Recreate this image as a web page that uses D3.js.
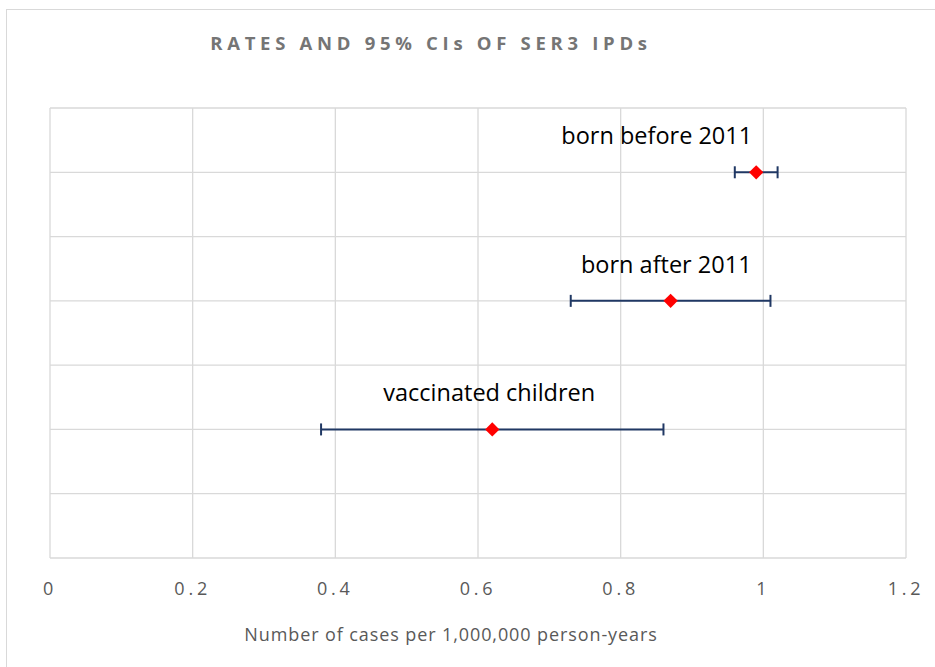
<!DOCTYPE html>
<html>
<head>
<meta charset="utf-8">
<script src="https://cdn.jsdelivr.net/npm/d3@7"></script>
<style>
  body { margin: 0; background: #fff; }
  svg { display: block; }
  .grid line { stroke: #d9d9d9; stroke-width: 1.3; }
  .tick-label { font-family: "Open Sans", sans-serif; font-size: 18px; fill: #595959; letter-spacing: 3.8px; }
</style>
</head>
<body>
<div id="chart"></div>
<script>
var groups = ['vaccinated children', 'born after 2011', 'born before 2011'];
var rates = [0.62, 0.87, 0.99];
var lower = [0.38, 0.73, 0.96];
var upper = [0.86, 1.01, 1.02];
var xTicks = [0, 0.2, 0.4, 0.6, 0.8, 1, 1.2];
var yLevels = [1, 2, 3];

var width = 935, height = 667;
var margins = {top: 108, left: 50, right: 29, bottom: 109};

// label placement relative to each point (layout, not data)
var labelDx = [-3, 81, -4];
var labelAnchor = ['middle', 'end', 'end'];

var svg = d3.select('#chart').append('svg')
  .attr('width', width)
  .attr('height', height);

// outer chart frame
svg.append('rect')
  .attr('x', 6.5).attr('y', 9.5)
  .attr('width', width).attr('height', height)
  .attr('fill', 'none')
  .attr('stroke', '#d9d9d9');

var x = d3.scaleLinear().domain([0, 1.2])
  .range([margins.left, width - margins.right]);
var y = d3.scaleLinear().domain([0, 3.5])
  .range([height - margins.bottom, margins.top]);

var gridG = svg.append('g').attr('class', 'grid');

gridG.selectAll('line.v')
  .data(xTicks)
  .enter().append('line')
  .attr('class', 'v')
  .attr('x1', function (d) { return x(d); })
  .attr('x2', function (d) { return x(d); })
  .attr('y1', y(0))
  .attr('y2', y(3.5));

gridG.selectAll('line.h')
  .data(d3.range(0, 3.51, 0.5))
  .enter().append('line')
  .attr('class', 'h')
  .attr('x1', x(0))
  .attr('x2', x(1.2))
  .attr('y1', function (d) { return y(d); })
  .attr('y2', function (d) { return y(d); });

// x tick labels
svg.selectAll('text.tick-label')
  .data(xTicks)
  .enter().append('text')
  .attr('class', 'tick-label')
  .attr('x', function (d) { return x(d); })
  .attr('y', 595)
  .attr('text-anchor', 'middle')
  .text(function (d) { return d3.format('')(d); });

// error bars
var cap = 6;
var errG = svg.append('g').attr('class', 'errors')
  .attr('stroke', '#203864')
  .attr('stroke-width', 2)
  .attr('fill', 'none');

yLevels.forEach(function (lvl, i) {
  var yy = y(lvl);
  errG.append('line')
    .attr('x1', x(lower[i])).attr('x2', x(upper[i]))
    .attr('y1', yy).attr('y2', yy);
  errG.append('line')
    .attr('x1', x(lower[i])).attr('x2', x(lower[i]))
    .attr('y1', yy - cap).attr('y2', yy + cap);
  errG.append('line')
    .attr('x1', x(upper[i])).attr('x2', x(upper[i]))
    .attr('y1', yy - cap).attr('y2', yy + cap);
});

// markers
var diamond = d3.symbol().type(d3.symbolDiamond2).size(130);
svg.selectAll('path.marker')
  .data(rates)
  .enter().append('path')
  .attr('class', 'marker')
  .attr('d', diamond)
  .attr('transform', function (d, i) {
    return 'translate(' + x(d) + ',' + y(yLevels[i]) + ')';
  })
  .attr('fill', '#ff0000');

// point labels
svg.selectAll('text.point-label')
  .data(groups)
  .enter().append('text')
  .attr('class', 'point-label')
  .attr('x', function (d, i) { return x(rates[i]) + labelDx[i]; })
  .attr('y', function (d, i) { return y(yLevels[i]) - 28; })
  .attr('text-anchor', function (d, i) { return labelAnchor[i]; })
  .attr('font-family', '"Open Sans", sans-serif')
  .attr('font-size', 23.5)
  .attr('fill', '#000')
  .text(function (d) { return d; });

// title
svg.append('text')
  .attr('x', 431)
  .attr('y', 50)
  .attr('text-anchor', 'middle')
  .attr('font-family', '"Open Sans", sans-serif')
  .attr('font-weight', 'bold')
  .attr('font-size', 18.5)
  .attr('letter-spacing', 4.7)
  .attr('fill', '#757575')
  .text('RATES AND 95% CIs OF SER3 IPDs');

// axis title
svg.append('text')
  .attr('x', 451)
  .attr('y', 641)
  .attr('text-anchor', 'middle')
  .attr('font-family', '"Open Sans", sans-serif')
  .attr('font-size', 18)
  .attr('letter-spacing', 0.9)
  .attr('fill', '#595959')
  .text('Number of cases per 1,000,000 person-years');
</script>
</body>
</html>
